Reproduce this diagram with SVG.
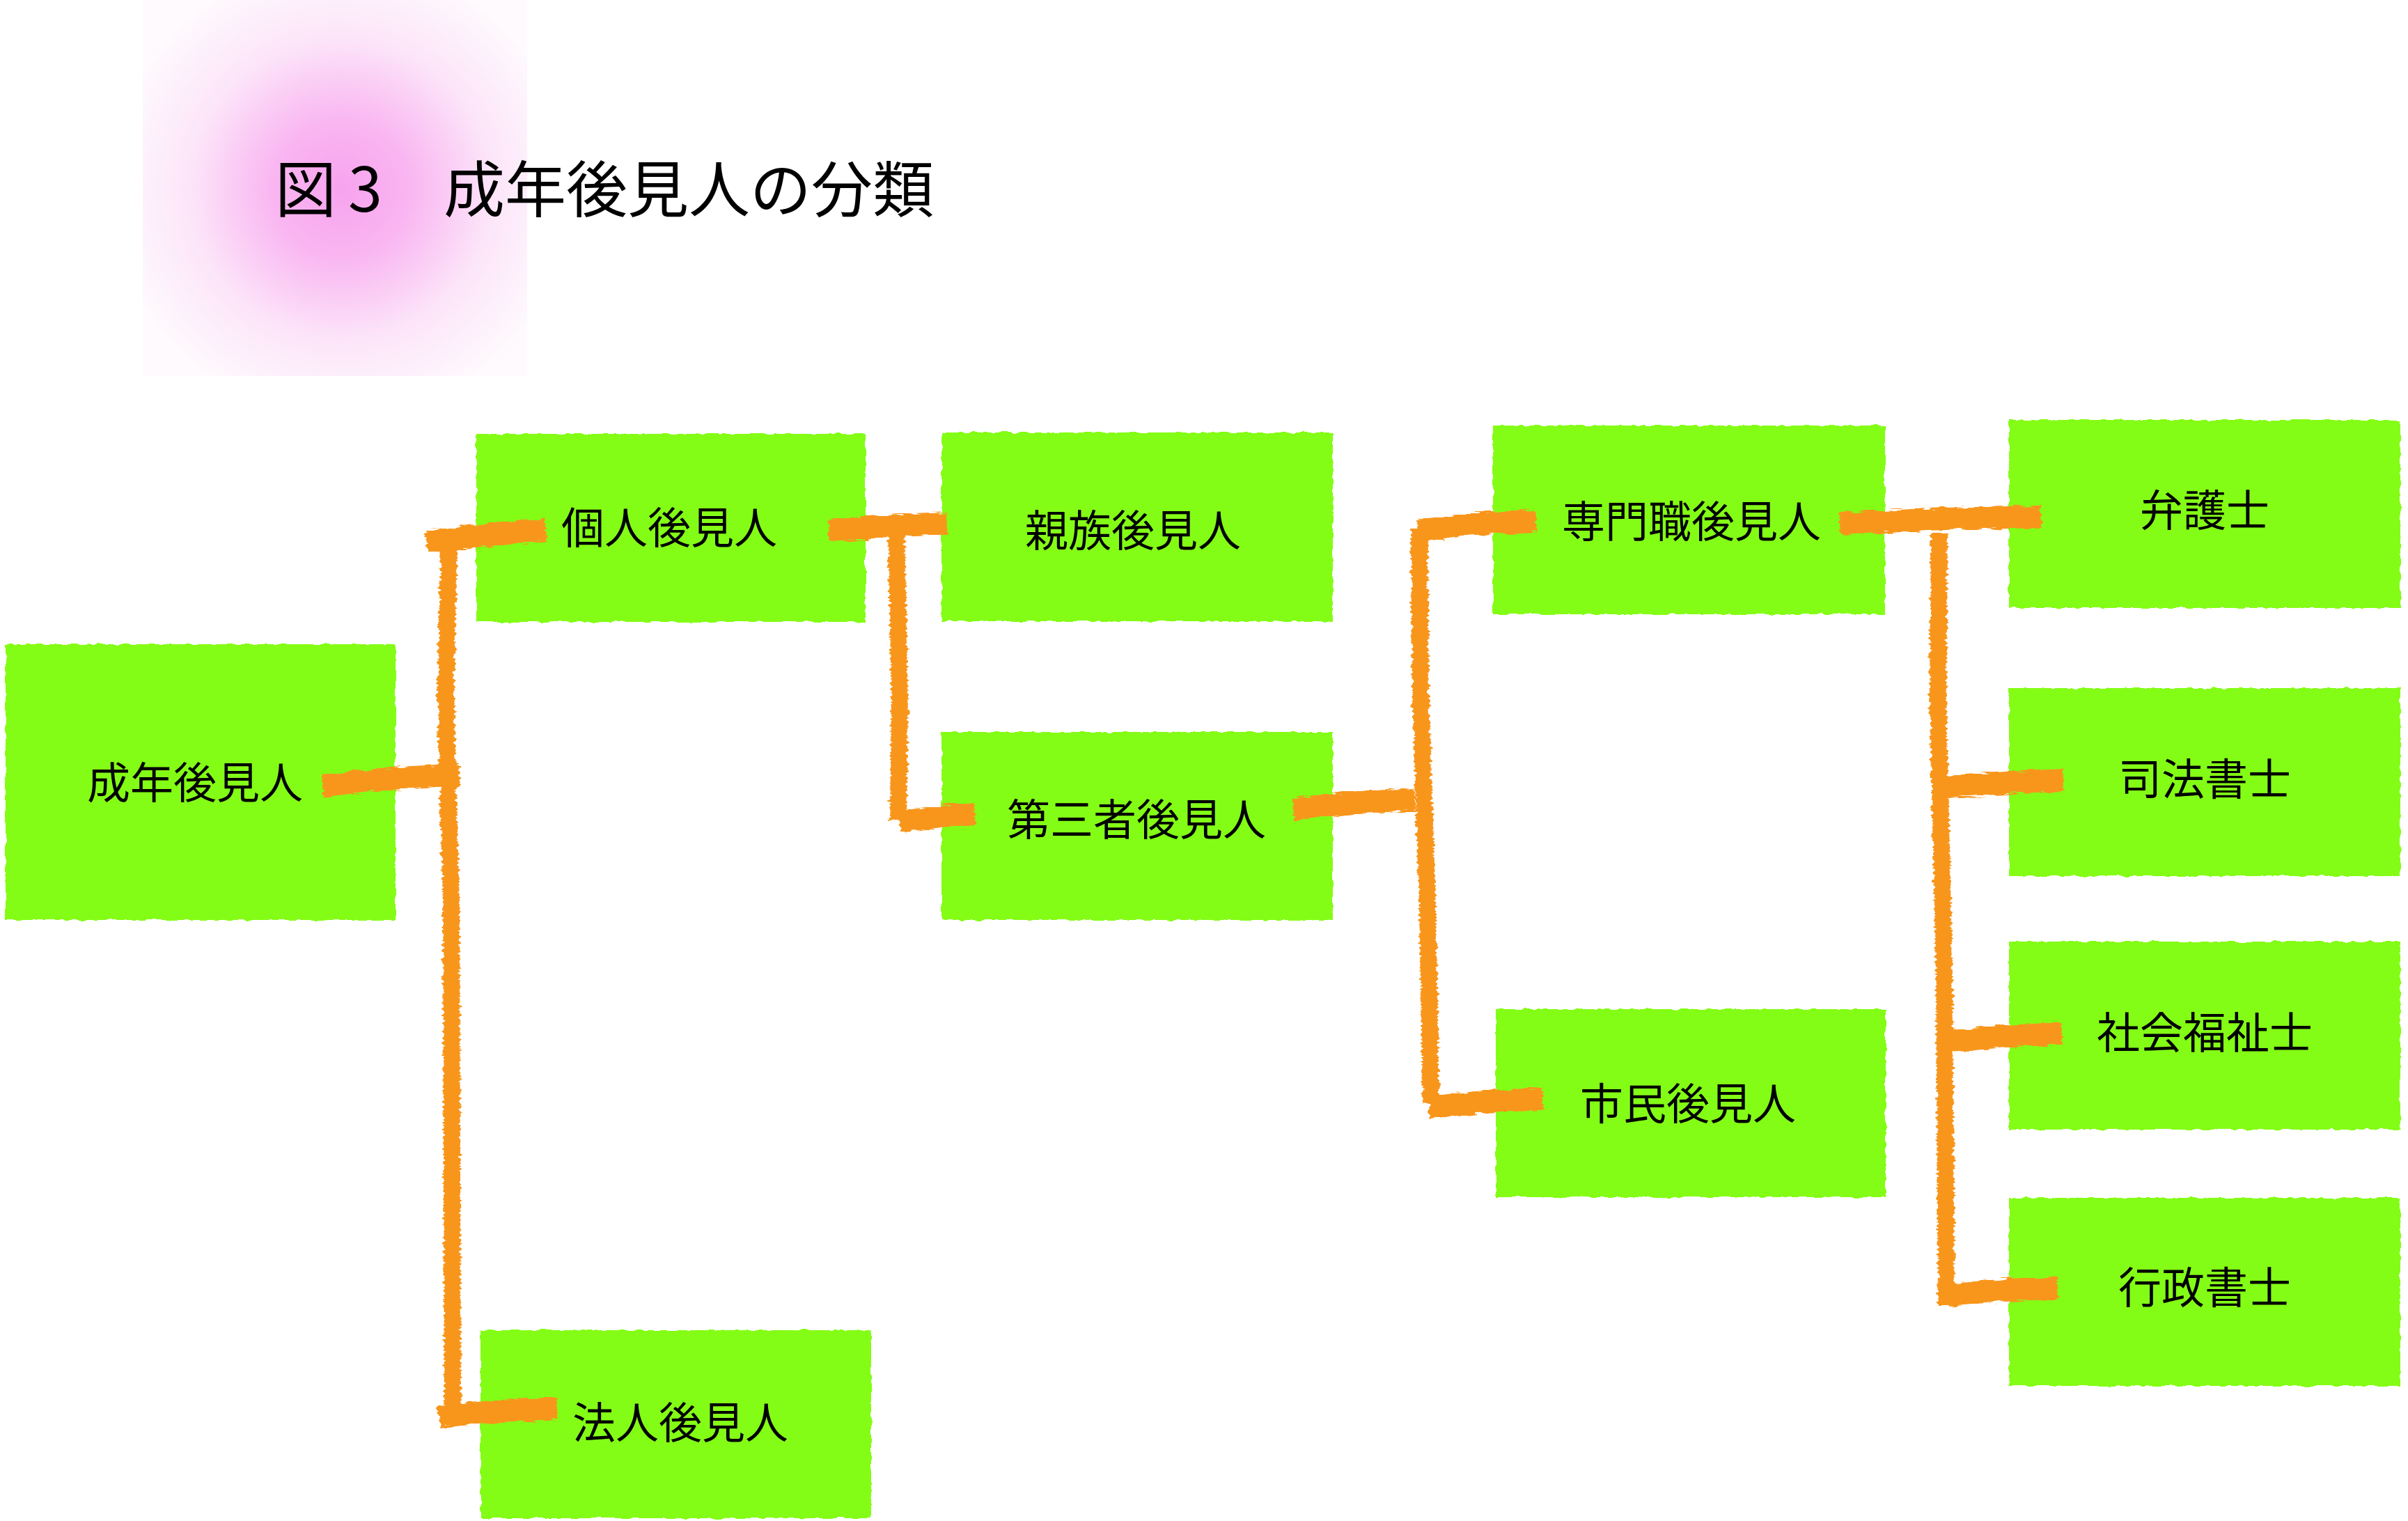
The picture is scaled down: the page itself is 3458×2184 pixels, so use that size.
<svg xmlns="http://www.w3.org/2000/svg" width="3458" height="2184" viewBox="0 0 3458 2184">
<style>
.box{fill:#84FD13;filter:url(#roughBox)}
.lbl{font-family:"Noto Sans CJK JP","Noto Sans",sans-serif;font-size:62px;fill:#000;text-anchor:middle}
.title{font-family:"Noto Sans CJK JP","Noto Sans",sans-serif;font-size:88px;fill:#000}
.con{fill:none;stroke:#F8961D;stroke-linecap:butt;stroke-linejoin:round;filter:url(#brush)}
.stub{stroke-width:32}
.bus{stroke-width:24}
</style>
<defs>
<radialGradient id="glow" cx="490" cy="272" r="330" gradientUnits="userSpaceOnUse">
<stop offset="0" stop-color="#F7A3EE"/>
<stop offset="0.3" stop-color="#F9B6F1"/>
<stop offset="0.65" stop-color="#FCE4F9"/>
<stop offset="1" stop-color="#FEFAFD"/>
</radialGradient>
<filter id="brush" filterUnits="userSpaceOnUse" x="0" y="0" width="3458" height="2184">
<feTurbulence type="fractalNoise" baseFrequency="0.05 0.25" numOctaves="2" seed="3" result="n"/>
<feDisplacementMap in="SourceGraphic" in2="n" scale="10" xChannelSelector="R" yChannelSelector="G"/>
</filter>
<filter id="roughBox" filterUnits="userSpaceOnUse" x="0" y="0" width="3458" height="2184">
<feTurbulence type="fractalNoise" baseFrequency="0.08" numOctaves="2" seed="7" result="n"/>
<feDisplacementMap in="SourceGraphic" in2="n" scale="6" xChannelSelector="R" yChannelSelector="G"/>
</filter>
</defs>
<rect width="3458" height="2184" fill="#FFFFFF"/>
<g id="title">
<rect x="205" y="0" width="552" height="540" fill="url(#glow)"/>
<text class="title" y="304"><tspan x="395">図</tspan><tspan x="500">3</tspan><tspan x="637">成年後見人の分類</tspan></text>
</g>
<g id="n-seinen"><rect class="box" x="8" y="925" width="560" height="396"/><text class="lbl" x="280" y="1147">成年後見人</text></g>
<g id="n-kojin"><rect class="box" x="684" y="623" width="559" height="270"/><text class="lbl" x="961" y="781">個人後見人</text></g>
<g id="n-shinzoku"><rect class="box" x="1352" y="621" width="562" height="271"/><text class="lbl" x="1627" y="785">親族後見人</text></g>
<g id="n-daisansha"><rect class="box" x="1352" y="1051" width="562" height="270"/><text class="lbl" x="1632" y="1200">第三者後見人</text></g>
<g id="n-senmon"><rect class="box" x="2144" y="611" width="563" height="271"/><text class="lbl" x="2429" y="772">専門職後見人</text></g>
<g id="n-shimin"><rect class="box" x="2148" y="1449" width="560" height="270"/><text class="lbl" x="2424" y="1608">市民後見人</text></g>
<g id="n-hojin"><rect class="box" x="690" y="1910" width="561" height="270"/><text class="lbl" x="977" y="2066">法人後見人</text></g>
<g id="n-bengoshi"><rect class="box" x="2885" y="603" width="562" height="270"/><text class="lbl" x="3166" y="756">弁護士</text></g>
<g id="n-shiho"><rect class="box" x="2885" y="988" width="562" height="270"/><text class="lbl" x="3166" y="1142">司法書士</text></g>
<g id="n-shakai"><rect class="box" x="2885" y="1352" width="562" height="270"/><text class="lbl" x="3166" y="1506">社会福祉士</text></g>
<g id="n-gyosei"><rect class="box" x="2885" y="1720" width="562" height="270"/><text class="lbl" x="3166" y="1872">行政書士</text></g>
<g id="connectors">
<path class="con stub" d="M463,1128 L560,1118 L660,1112"/>
<path class="con bus" d="M645,768 L640,1000 L648,1300 L650,2035"/>
<path class="con stub" d="M612,778 L700,768 L784,760"/>
<path class="con stub" d="M630,2034 L720,2026 L800,2022"/>
<path class="con stub" d="M1190,762 L1290,755 L1360,752"/>
<path class="con bus" d="M1287,760 L1292,1000 L1290,1178"/>
<path class="con stub" d="M1292,1180 L1350,1172 L1400,1168"/>
<path class="con stub" d="M1857,1162 L1950,1152 L2032,1148"/>
<path class="con bus" d="M2038,760 L2040,1000 L2050,1300 L2055,1585"/>
<path class="con stub" d="M2036,762 L2120,752 L2206,748"/>
<path class="con stub" d="M2052,1590 L2130,1582 L2216,1578"/>
<path class="con stub" d="M2642,752 L2790,745 L2931,742"/>
<path class="con bus" d="M2785,765 L2783,1000 L2792,1400 L2795,1875"/>
<path class="con stub" d="M2797,1130 L2880,1124 L2963,1120"/>
<path class="con stub" d="M2800,1495 L2880,1488 L2961,1484"/>
<path class="con stub" d="M2797,1860 L2880,1852 L2955,1850"/>
</g>
</svg>
